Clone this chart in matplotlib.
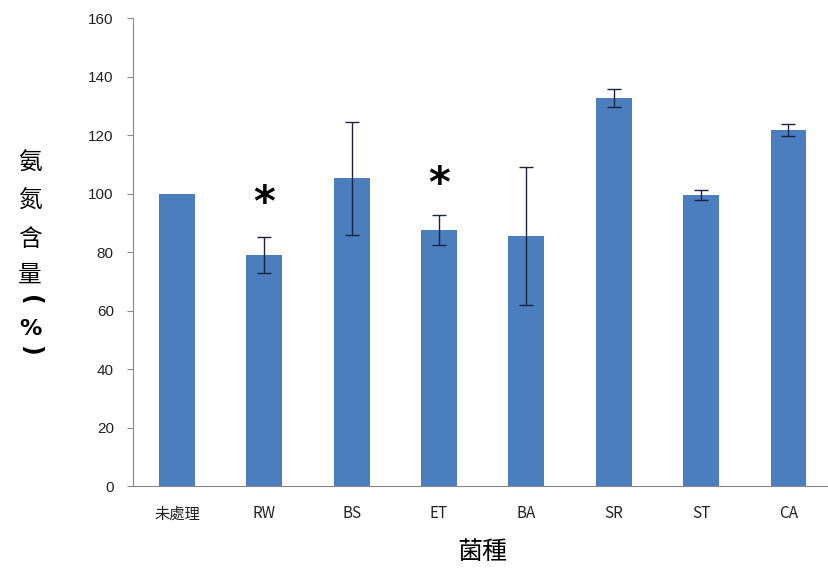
import matplotlib
matplotlib.use("Agg")
import matplotlib.pyplot as plt

plt.rcParams['font.family'] = ['Liberation Sans', 'Noto Sans CJK TC', 'DejaVu Sans']

categories = ['未處理', 'RW', 'BS', 'ET', 'BA', 'SR', 'ST', 'CA']
values = [100, 79, 105.2, 87.4, 85.5, 132.6, 99.6, 121.6]
errors = [0, 6.2, 19.3, 5.1, 23.5, 3.0, 1.7, 2.1]
sig_categories = ['RW', 'ET']
sig_y = [96.5, 103.0]
y_ticks = [0, 20, 40, 60, 80, 100, 120, 140, 160]
ylabel_chars = ['氨', '氮', '含', '量', '(', '%', ')']

fig = plt.figure(figsize=(8.29, 5.74), dpi=100)
ax = fig.add_axes([0.1608, 0.1533, 0.843, 0.8153])

x = list(range(len(categories)))
ax.bar(x, values, width=0.41, color='#4A7EBF', zorder=2)
ex = [i for i, e in zip(x, errors) if e > 0]
ev = [v for v, e in zip(values, errors) if e > 0]
ee = [e for e in errors if e > 0]
ax.errorbar(ex, ev, yerr=ee, fmt='none', ecolor='#1a2440',
            elinewidth=1.0, capsize=5, capthick=1.0, zorder=3)

for c, yy in zip(sig_categories, sig_y):
    ax.text(categories.index(c), yy, '*', ha='center', va='center',
            fontsize=30, fontweight='bold', family='DejaVu Sans', color='black', zorder=4)

ax.set_xlim(-0.5, len(categories) - 0.5)
ax.set_ylim(0, 160)
ax.set_yticks(y_ticks)
ax.set_yticklabels([str(t) for t in y_ticks], fontsize=11, color='#222222')
ax.set_xticks(x)
ax.set_xticklabels(categories, fontsize=11, color='#222222')
for lbl in ax.get_xticklabels():
    lbl.set_family(['Noto Sans CJK TC', 'Liberation Sans'])
ax.tick_params(axis='x', length=0, pad=14)
ax.tick_params(axis='y', length=4, direction='out', color='#888888', pad=10)

for s in ['top', 'right']:
    ax.spines[s].set_visible(False)
ax.spines['left'].set_color('#888888')
ax.spines['bottom'].set_color('#888888')

ax.set_xlabel('菌種', fontsize=18, family='Noto Sans CJK TC', labelpad=12)

# vertical y-axis label, one character per line; brackets turned sideways
char_px = [163, 200, 239, 275, 300, 329, 350]
for ch, py in zip(ylabel_chars, char_px):
    if ch in '()':
        fig.text(30 / 829, 1 - py / 574, ch, ha='center', va='center', fontsize=17,
                 fontweight='bold', family='DejaVu Sans', rotation=-90)
    elif ch == '%':
        fig.text(30 / 829, 1 - py / 574, ch, ha='center', va='center', fontsize=16,
                 fontweight='bold', family='DejaVu Sans')
    else:
        fig.text(30 / 829, 1 - py / 574, ch, ha='center', va='center', fontsize=17,
                 family='Noto Sans CJK TC')

fig.savefig('out.png', dpi=100)
